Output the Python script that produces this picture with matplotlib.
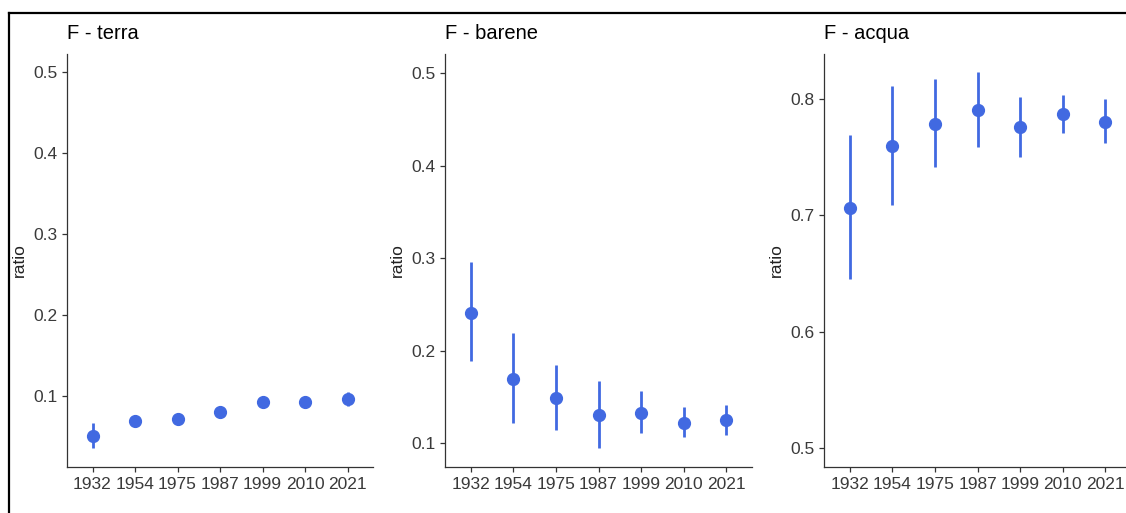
import matplotlib.pyplot as plt
from matplotlib.lines import Line2D

plt.rcParams['font.family'] = ['Liberation Sans', 'DejaVu Sans']

years = ["1932", "1954", "1975", "1987", "1999", "2010", "2021"]

# F - terra
terra_mean = [0.051, 0.069, 0.072, 0.080, 0.092, 0.092, 0.096]
terra_low = [0.036, 0.066, 0.069, 0.075, 0.088, 0.089, 0.088]
terra_high = [0.067, 0.072, 0.075, 0.085, 0.096, 0.095, 0.105]

# F - barene
barene_mean = [0.2415, 0.170, 0.149, 0.1305, 0.133, 0.1223, 0.1248]
barene_low = [0.1887, 0.1216, 0.115, 0.0954, 0.1115, 0.107, 0.1086]
barene_high = [0.296, 0.219, 0.185, 0.168, 0.157, 0.1395, 0.142]

# F - acqua
acqua_mean = [0.7067, 0.7598, 0.7783, 0.7906, 0.7757, 0.787, 0.780]
acqua_low = [0.645, 0.709, 0.7415, 0.7586, 0.750, 0.7706, 0.762]
acqua_high = [0.7686, 0.8114, 0.817, 0.8228, 0.802, 0.8037, 0.800]

panels = [
    ("F - terra", terra_mean, terra_low, terra_high, (0.0123, 0.522), [0.1, 0.2, 0.3, 0.4, 0.5]),
    ("F - barene", barene_mean, barene_low, barene_high, (0.0745, 0.521), [0.1, 0.2, 0.3, 0.4, 0.5]),
    ("F - acqua", acqua_mean, acqua_low, acqua_high, (0.484, 0.8385), [0.5, 0.6, 0.7, 0.8]),
]

W, H = 1126, 513
fig = plt.figure(figsize=(W / 100, H / 100), dpi=100)

# axes boxes in pixels: left, right
boxes = [(67, 373), (445, 752), (824, 1131)]
top, bottom = 54, 467
color = "royalblue"

for (title, mean, low, high, ylim, yticks), (x0, x1) in zip(panels, boxes):
    ax = fig.add_axes([x0 / W, 1 - bottom / H, (x1 - x0) / W, (bottom - top) / H])
    xs = range(len(years))
    for i in xs:
        ax.plot([i, i], [low[i], high[i]], color=color, lw=2.0, solid_capstyle="butt")
    ax.plot(list(xs), mean, "o", color=color, ms=8.5, mec=color)
    ax.set_xlim(-0.6, len(years) - 1 + 0.6)
    ax.set_ylim(*ylim)
    ax.set_xticks(list(xs))
    ax.set_xticklabels(years)
    ax.set_yticks(yticks)
    ax.set_yticklabels([f"{t:.1f}" for t in yticks])
    for s in ["top", "right"]:
        ax.spines[s].set_visible(False)
    for s in ["left", "bottom"]:
        ax.spines[s].set_color("#333333")
        ax.spines[s].set_linewidth(0.9)
    ax.tick_params(axis="both", length=3.5, width=0.9, color="#333333",
                   labelcolor="#3a3a3a", labelsize=12.5, pad=3.5)
    ax.set_ylabel("ratio", fontsize=12.5, color="#222222")
    ax.yaxis.set_label_coords(-0.13, 0.5)
    ax.set_title(title, loc="left", fontsize=14.5, pad=11, color="black")

# screenshot frame
fig.add_artist(Line2D([9 / W, 1], [1 - 13 / H, 1 - 13 / H], color="black", lw=1.6))
fig.add_artist(Line2D([9 / W, 9 / W], [0, 1 - 13 / H], color="black", lw=1.6))

fig.savefig("out.png", dpi=100)
